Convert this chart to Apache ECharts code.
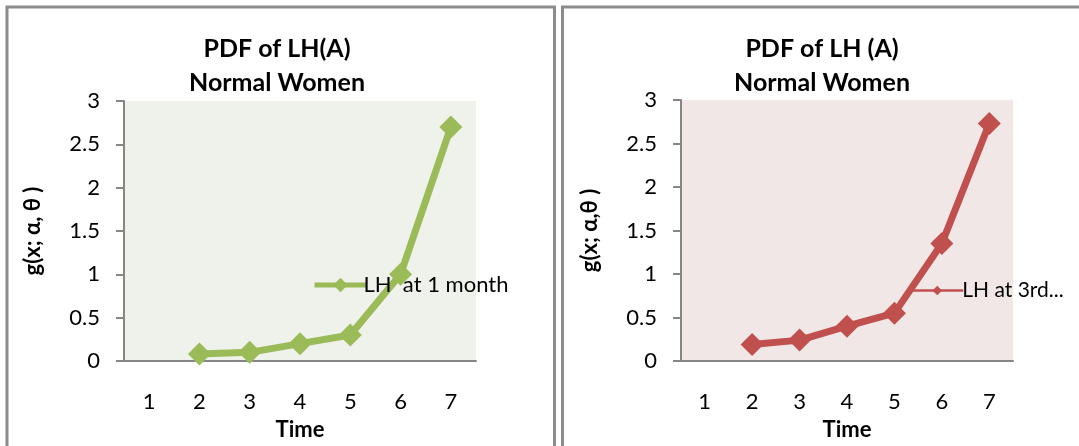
<!DOCTYPE html>
<html>
<head>
<meta charset="utf-8">
<script src="https://cdn.jsdelivr.net/npm/echarts@6/dist/echarts.min.js"></script>
<style>
  html, body { margin: 0; padding: 0; background: #fff; }
  #chart { width: 1079px; height: 446px; }
</style>
</head>
<body>
<div id="chart"></div>
<script>
// Time points shared by both panels
const timeLabels = ['1', '2', '3', '4', '5', '6', '7'];
// Density values g(x; α, θ); no value at time 1
const lhOneMonth = [null, 0.08, 0.10, 0.20, 0.30, 1.00, 2.70];
const lhThirdMonth = [null, 0.19, 0.24, 0.40, 0.55, 1.35, 2.73];
// Y tick range
const yMin = 0, yMax = 3, yStep = 0.5;

const FONT = 'Lato, "Open Sans", sans-serif';
const AXIS_GRAY = '#868686';
const GREEN = '#9BBB59';
const RED = '#C0504D';

function makeX(gridIndex) {
  return {
    type: 'category', gridIndex: gridIndex, data: timeLabels, boundaryGap: true,
    axisLine: { show: true, lineStyle: { color: AXIS_GRAY, width: 2 } },
    axisTick: { show: false },
    axisLabel: { color: '#000', fontSize: 22, fontFamily: FONT, margin: 30 },
    name: 'Time', nameLocation: 'middle', nameGap: 58,
    nameTextStyle: { color: '#000', fontSize: 22, fontWeight: 'bold', fontFamily: FONT },
    splitLine: { show: false }
  };
}
function makeY(gridIndex, name) {
  return {
    type: 'value', gridIndex: gridIndex, min: yMin, max: yMax, interval: yStep,
    axisLine: { show: true, lineStyle: { color: AXIS_GRAY, width: 2 } },
    axisTick: { show: true, inside: false, length: 8, lineStyle: { color: AXIS_GRAY, width: 2 } },
    axisLabel: { color: '#000', fontSize: 22, fontFamily: FONT, margin: 24 },
    splitLine: { show: false },
    name: name, nameLocation: 'middle', nameGap: 80, nameRotate: 90,
    nameTextStyle: { color: '#000', fontSize: 22, fontWeight: 'bold', fontFamily: FONT }
  };
}

const chart = echarts.init(document.getElementById('chart'), null, { renderer: 'canvas' });
chart.setOption({
  backgroundColor: '#fff',
  animation: false,
  title: [
    { text: 'PDF of LH(A)\nNormal Women', left: 272, top: 27, textAlign: 'center',
      textStyle: { fontSize: 25, fontWeight: 'bold', fontFamily: FONT, color: '#000', lineHeight: 34 } },
    { text: 'PDF of LH (A)\nNormal Women', left: 817, top: 27, textAlign: 'center',
      textStyle: { fontSize: 25, fontWeight: 'bold', fontFamily: FONT, color: '#000', lineHeight: 34 } }
  ],
  legend: [
    { data: ['LH  at 1 month'], left: 307, top: 269, itemWidth: 52, itemHeight: 18, itemGap: 4,
      lineStyle: { width: 5 },
      textStyle: { fontSize: 22, fontFamily: FONT, color: '#000', padding: [0, 0, 0, -8] } },
    { data: ['LH at 3rd...'], left: 905, top: 275, itemWidth: 52, itemHeight: 12, itemGap: 4,
      lineStyle: { width: 2.5 },
      textStyle: { fontSize: 21, fontFamily: FONT, color: '#000', padding: [0, 0, 0, -6] } }
  ],
  grid: [
    { left: 124, right: 603, top: 101, bottom: 83, show: true, backgroundColor: '#EFF2EA', borderWidth: 0 },
    { left: 681, right: 66, top: 100, bottom: 81, show: true, backgroundColor: '#F2E7E7', borderWidth: 0 }
  ],
  xAxis: [makeX(0), makeX(1)],
  yAxis: [makeY(0, 'g(x; α, θ )'), makeY(1, 'g(x; α,θ )')],
  series: [
    { name: 'LH  at 1 month', type: 'line', xAxisIndex: 0, yAxisIndex: 0, data: lhOneMonth,
      symbol: 'diamond', symbolSize: 23, showAllSymbol: true, connectNulls: false,
      lineStyle: { color: GREEN, width: 7 }, itemStyle: { color: GREEN } },
    { name: 'LH at 3rd...', type: 'line', xAxisIndex: 1, yAxisIndex: 1, data: lhThirdMonth,
      symbol: 'diamond', symbolSize: 23, showAllSymbol: true, connectNulls: false,
      lineStyle: { color: RED, width: 7 }, itemStyle: { color: RED } }
  ],
  graphic: [
    // frame of the left panel
    { type: 'polyline', shape: { points: [[7, 446], [7, 7], [554.5, 7], [554.5, 446]] },
      style: { stroke: '#8C8C8C', lineWidth: 3, fill: null } },
    // frame of the right panel
    { type: 'polyline', shape: { points: [[562.5, 446], [562.5, 7], [1079, 7]] },
      style: { stroke: '#8C8C8C', lineWidth: 3, fill: null } }
  ]
});
</script>
</body>
</html>
